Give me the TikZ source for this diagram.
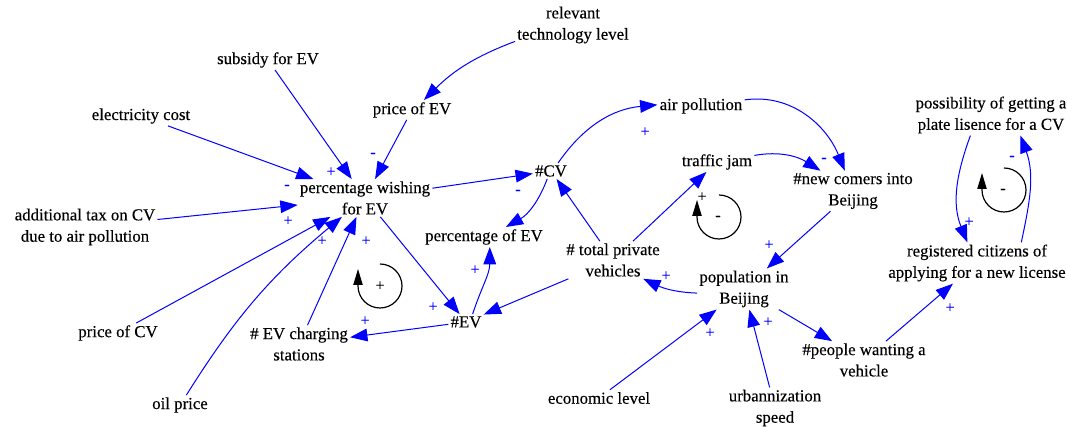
\documentclass[tikz,border=0pt]{standalone}
\usepackage{fontspec}
\setmainfont{Liberation Serif}
\newfontfamily\labelfont[FakeBold=0.3]{Liberation Serif}
\usetikzlibrary{arrows.meta,calc}
\begin{document}
\begin{tikzpicture}[x=0.75pt,y=0.75pt,
  var/.style={align=center, inner sep=1.5pt, font=\labelfont\fontsize{12.6}{16}\selectfont},
  link/.style={color=blue, line width=0.75pt, -{Triangle[length=13pt,width=9.5pt]}},
  pol/.style={text=blue, inner sep=0pt, font=\labelfont\fontsize{12}{14}\selectfont},
  loopsign/.style={text=black, inner sep=0pt, font=\labelfont\fontsize{12}{14}\selectfont},
  looparc/.style={color=black, line width=0.9pt, -{Triangle[length=12pt,width=7pt]}}
]
\useasboundingbox (0,0) rectangle (1067,427);

% variables
\node[var] (tech)    at (573,402) {relevant\\technology level};
\node[var] (subsidy) at (268,367) {subsidy for EV};
\node[var] (pEV)     at (412,317) {price of EV};
\node[var] (elec)    at (141,311) {electricity cost};
\node[var] (pw)      at (365,229) {percentage wishing\\for EV};
\node[var] (tax)     at (85,200)  {additional tax on CV\\due to air pollution};
\node[var] (CV)      at (551,256) {\#CV};
\node[var] (air)     at (701,321) {air pollution};
\node[var] (traffic) at (717,265) {traffic jam};
\node[var] (newc)    at (853,236) {\#new comers into\\Beijing};
\node[var] (poss)    at (991,312) {possibility of getting a\\plate lisence for a CV};
\node[var] (pctEV)   at (484,190) {percentage of EV};
\node[var] (total)   at (613,167) {\# total private\\vehicles};
\node[var] (reg)     at (977,164) {registered citizens of\\applying for a new license};
\node[var] (pop)     at (744,138) {population in\\Beijing};
\node[var] (pCV)     at (118,94)  {price of CV};
\node[var] (charge)  at (299,83)  {\# EV charging\\stations};
\node[var] (EV)      at (466,105) {\#EV};
\node[var] (people)  at (864,67)  {\#people wanting a\\vehicle};
\node[var] (oil)     at (180,22)  {oil price};
\node[var] (econ)    at (599,29)  {economic level};
\node[var] (urban)   at (775,19)  {urbannization\\speed};

% causal links
\draw[link] (tech) to[bend right=12] (pEV);
\draw[link] (pEV) -- (pw);
\draw[link] (subsidy) -- (pw);
\draw[link] (elec) -- (pw);
\draw[link] (tax) -- (pw);
\draw[link] (pCV) -- (pw);
\draw[link] (oil) to[bend left=9] (pw);
\draw[link] (charge) -- (pw);
\draw[link] (pw) -- (CV);
\draw[link] (pw) -- (EV);
\draw[link] (EV) -- (charge);
\draw[link] (EV.50) to[out=72,in=-90] (pctEV.-60);
\draw[link] (CV) to[bend left=20] (pctEV);
\draw[link] (CV) to[bend left=25] (air);
\draw[link] (air) to[out=8,in=112] (newc);
\draw[link] (traffic) to[out=10,in=148] (newc);
\draw[link] (newc) -- (pop);
\draw[link] (total) -- (EV);
\draw[link] (total) -- (CV);
\draw[link] (total) -- (traffic);
\draw[link] (pop.185) to[out=178,in=-25] (total.-32);
\draw[link] (pop) -- (people);
\draw[link] (urban) -- (pop);
\draw[link] (econ) -- (pop);
\draw[link] (people) -- (reg);
\draw[link] (poss.-135) to[out=250,in=112] (reg.115);
\draw[link] (reg.25) to[out=78,in=-70] (poss.-35);

% link polarities
\node[pol] (s1)  at (331,255) {+};
\node[pol] (s2)  at (287,240) {-};
\node[pol] (s3)  at (373,272) {-};
\node[pol] (s4)  at (288,206) {+};
\node[pol] (s5)  at (322,186) {+};
\node[pol] (s6)  at (366,186) {+};
\node[pol] (s7)  at (433,120) {+};
\node[pol] (s8)  at (365,106) {+};
\node[pol] (s9)  at (475,157) {+};
\node[pol] (s10) at (518,235) {-};
\node[pol] (s11) at (645,295) {+};
\node[pol] (s12) at (666,151) {+};
\node[pol] (s13) at (824,267) {-};
\node[pol] (s14) at (769,182) {+};
\node[pol] (s15) at (969,205) {+};
\node[pol] (s16) at (1012,269) {-};
\node[pol] (s17) at (950,119) {+};
\node[pol] (s18) at (710,94)  {+};
\node[pol] (s19) at (768,105) {+};

% feedback loop markers
\coordinate (loopA) at (380,141);
\coordinate (loopB) at (719,210);
\coordinate (loopC) at (1004,237);
\draw[looparc] ($(loopA)+(0,22)$) arc[start angle=90,end angle=-180,radius=22] -- ++(0,17);
\draw[looparc] ($(loopB)+(0,22)$) arc[start angle=90,end angle=-180,radius=22] -- ++(0,17);
\draw[looparc] ($(loopC)+(0,22)$) arc[start angle=90,end angle=-180,radius=22] -- ++(0,17);
\node[loopsign] (mA) at (380,141) {+};
\node[loopsign] (mB) at (718,209) {-};
\node[loopsign] (mB2) at (702,230) {+};
\node[loopsign] (mC) at (1003,236) {-};
\end{tikzpicture}
\end{document}
